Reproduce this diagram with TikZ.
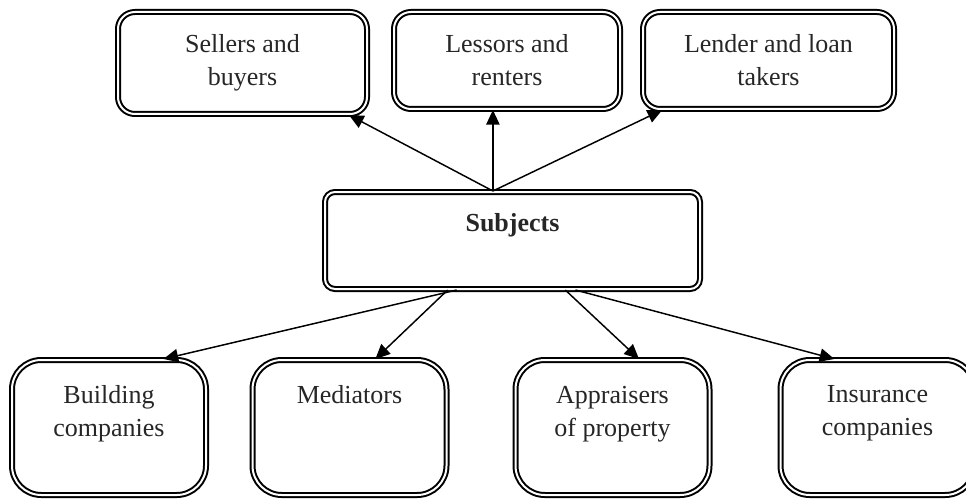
\documentclass[tikz,border=0pt]{standalone}
\usepackage{fontspec}
\setmainfont{Liberation Serif}
\usetikzlibrary{calc,arrows.meta}
\def\boxfont{\fontsize{19.5}{24.75}\selectfont}
\tikzset{
	box/.style={draw, double, line width=1.5pt, double distance=1.5pt, inner sep=0pt, align=center, text=black!85, font=\boxfont},
	topbox/.style={box, rounded corners=12.75pt, minimum height=72.75pt},
	lowbox/.style={box, rounded corners=22pt, minimum width=145.5pt, minimum height=101.25pt},
	basetext/.style={inner sep=0pt, align=center, text=black!85, font=\boxfont},
	boxtext/.style={basetext, below=20pt},
	subtext/.style={basetext, below=17pt, font=\boxfont\bfseries},
	arr/.style={-{Triangle[length=11pt,width=10pt]}, line width=1.1pt}
}

\begin{document}
\begin{tikzpicture}[x=0.75pt, y=-0.75pt]
			%%%%% START %%%%%
			\useasboundingbox (0, 0) rectangle (966, 499);
			
			% top row
			\node[topbox, minimum width=186.75pt, minimum height=76.5pt] (sellers) at (242.5, 63) {Sellers and\\buyers};
			\node[topbox, minimum width=169.5pt] (lessors) at (507, 60.5) {Lessors and\\renters};
			\node[topbox, minimum width=188.25pt] (lender) at (768.5, 60.5) {Lender and loan\\takers};
			
			% middle
			\node[box, rounded corners=7.5pt, minimum width=281.25pt, minimum height=72.75pt,
				label={[subtext]north:Subjects}] (subjects) at (512.5, 240.5) {};
			
			% bottom row
			\node[lowbox, label={[boxtext]north:Building\\companies}] (building) at (109, 427.5) {};
			\node[lowbox, label={[boxtext]north:Mediators}] (mediators) at (349.5, 427.5) {};
			\node[lowbox, label={[boxtext]north:Appraisers\\of property}] (appraisers) at (612.5, 427.5) {};
			\node[lowbox, label={[boxtext]north:Insurance\\companies}] (insurance) at (877.5, 427.5) {};
			
			% arrows up
			\coordinate (up) at ($(subjects.north west)!0.448!(subjects.north east)$);
			\draw[arr] (up) -- ($(sellers.south west)!0.924!(sellers.south east)$);
			\draw[arr] (up) -- (up |- lessors.south);
			\draw[arr] (up) -- ($(lender.south west)!0.08!(lender.south east)$);
			
			% arrows down
			\draw[arr] ($(subjects.south west)!0.352!(subjects.south east)$) -- ($(building.north west)!0.778!(building.north east)$);
			\draw[arr] ($(subjects.south west)!0.328!(subjects.south east)$) -- ($(mediators.north west)!0.632!(mediators.north east)$);
			\draw[arr] ($(subjects.south west)!0.64!(subjects.south east)$) -- ($(appraisers.north west)!0.635!(appraisers.north east)$);
			\draw[arr] ($(subjects.south west)!0.667!(subjects.south east)$) -- ($(insurance.north west)!0.28!(insurance.north east)$);
			
			%%%%% END %%%%%
\end{tikzpicture}
\end{document}
